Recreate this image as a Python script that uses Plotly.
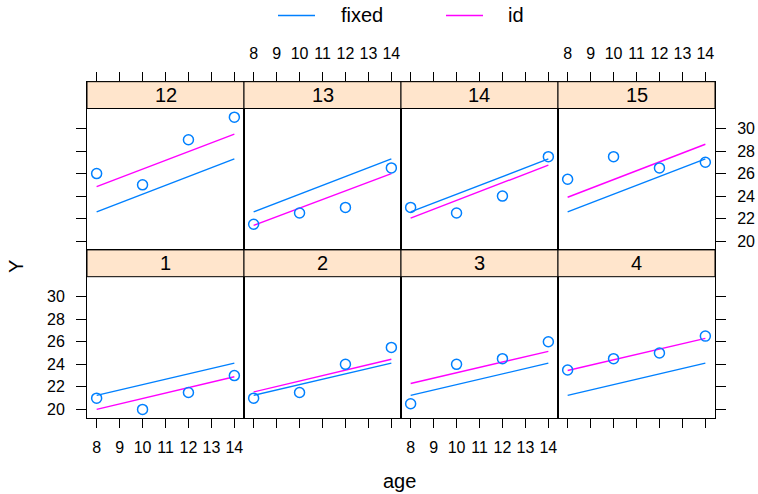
import plotly.graph_objects as go

# ---------------- data ----------------
ages = [8, 10, 12, 14]
panel_labels = ["12", "13", "14", "15", "1", "2", "3", "4"]  # top row then bottom row
distances = [
    [26.0, 25.0, 29.0, 31.0],   # 12
    [21.5, 22.5, 23.0, 26.5],   # 13
    [23.0, 22.5, 24.0, 27.5],   # 14
    [25.5, 27.5, 26.5, 27.0],   # 15
    [21.0, 20.0, 21.5, 23.0],   # 1
    [21.0, 21.5, 24.0, 25.5],   # 2
    [20.5, 24.0, 24.5, 26.0],   # 3
    [23.5, 24.5, 25.0, 26.5],   # 4
]
# fitted lines: value at age 8 and at age 14
fixed_start = [22.6, 22.6, 22.6, 22.6, 21.25, 21.25, 21.25, 21.25]
fixed_end = [27.3, 27.3, 27.3, 27.3, 24.1, 24.1, 24.1, 24.1]
id_start = [24.85, 21.4, 22.05, 23.9, 20.0, 21.55, 22.3, 23.45]
id_end = [29.5, 26.0, 26.75, 28.6, 22.9, 24.45, 25.15, 26.3]
line_ages = [8, 14]
xticks = [8, 9, 10, 11, 12, 13, 14]
yticks = [20, 22, 24, 26, 28, 30]

# ---------------- layout geometry (pixels) ----------------
W, H = 758, 494
BLUE = "#0080ff"
PINK = "#ff00ff"
STRIP = "#ffe5cc"
FONT = "Liberation Sans, Arial, Helvetica, sans-serif"

left0, pw = 87.0, 157.0
top0, sh, ph = 81.7, 26.8, 141.4

xmin, xmax = min(ages), max(ages)
xpad = 0.07 * (xmax - xmin)
xr = [xmin - xpad, xmax + xpad]
allv = [v for row in distances for v in row]
ymin, ymax = min(allv), max(allv)
ypad = 0.07 * (ymax - ymin)
yr_lo, yr_hi = ymin - ypad, ymax + ypad
# extend range upward to include the strip area
yr_top = yr_hi + (yr_hi - yr_lo) * sh / ph
yr = [yr_lo, yr_top]

def px_x(p):
    return p / W

def px_y(p):
    return 1 - p / H

fig = go.Figure()
shapes = []
annotations = []

for i in range(8):
    row, col = divmod(i, 4)
    n = i + 1
    xa = "x" if n == 1 else f"x{n}"
    ya = "y" if n == 1 else f"y{n}"
    xkey = "xaxis" if n == 1 else f"xaxis{n}"
    ykey = "yaxis" if n == 1 else f"yaxis{n}"

    x0p = left0 + col * pw
    x1p = x0p + pw
    t = top0 + row * (sh + ph)
    b = t + sh + ph

    fig.add_trace(go.Scatter(x=line_ages, y=[fixed_start[i], fixed_end[i]], mode="lines",
                             line=dict(color=BLUE, width=1.4), xaxis=xa, yaxis=ya,
                             name="fixed", showlegend=False, hoverinfo="skip"))
    fig.add_trace(go.Scatter(x=line_ages, y=[id_start[i], id_end[i]], mode="lines",
                             line=dict(color=PINK, width=1.4), xaxis=xa, yaxis=ya,
                             name="id", showlegend=False, hoverinfo="skip"))
    fig.add_trace(go.Scatter(x=ages, y=distances[i], mode="markers",
                             marker=dict(symbol="circle-open", size=10, color=BLUE,
                                         line=dict(width=1.5, color=BLUE)),
                             xaxis=xa, yaxis=ya, showlegend=False))

    # x axis
    if row == 0:
        xside = "top"
        xlabels = (col % 2 == 1)
    else:
        xside = "bottom"
        xlabels = (col % 2 == 0)
    fig.layout[xkey] = dict(
        domain=[px_x(x0p), px_x(x1p)], range=xr, anchor=ya, side=xside,
        showline=True, mirror=True, linecolor="black", linewidth=1,
        showgrid=False, zeroline=False,
        tickmode="array", tickvals=xticks, ticktext=[str(v) for v in xticks],
        ticks="outside", ticklen=9, tickwidth=1, tickcolor="black",
        showticklabels=xlabels, ticklabelstandoff=6,
        tickfont=dict(family=FONT, size=16, color="black"),
    )
    # y axis
    yside = "left"
    yt = ""
    ylabels = False
    if col == 0:
        yside, yt, ylabels = "left", "outside", (row == 1)
    elif col == 3:
        yside, yt, ylabels = "right", "outside", (row == 0)
    fig.layout[ykey] = dict(
        domain=[px_y(b), px_y(t)], range=yr, anchor=xa, side=yside,
        showline=True, mirror=True, linecolor="black", linewidth=1,
        showgrid=False, zeroline=False,
        tickmode="array", tickvals=yticks if yt else [],
        ticks=yt, ticklen=10, tickwidth=1, tickcolor="black",
        showticklabels=ylabels, ticklabelstandoff=8,
        tickfont=dict(family=FONT, size=16, color="black"),
    )

    # strip
    shapes.append(dict(type="rect", xref="paper", yref="paper",
                       x0=px_x(x0p), x1=px_x(x1p), y0=px_y(t + sh), y1=px_y(t),
                       fillcolor=STRIP, line=dict(color="black", width=1), layer="above"))
    annotations.append(dict(text=panel_labels[i], xref="paper", yref="paper",
                            x=px_x((x0p + x1p) / 2), y=px_y(t + sh / 2),
                            xanchor="center", yanchor="middle", showarrow=False,
                            font=dict(family=FONT, size=20, color="black")))

# legend (manual key)
legend_items = [("fixed", BLUE, 278, 340), ("id", PINK, 446, 507)]
for name, col, lx, tx in legend_items:
    shapes.append(dict(type="line", xref="paper", yref="paper",
                       x0=px_x(lx), x1=px_x(lx + 37), y0=px_y(15.5), y1=px_y(15.5),
                       line=dict(color=col, width=1.4)))
    annotations.append(dict(text=name, xref="paper", yref="paper",
                            x=px_x(tx - 1), y=px_y(15), xanchor="left", yanchor="middle",
                            showarrow=False, font=dict(family=FONT, size=20, color="black")))

# axis titles
annotations.append(dict(text="age", xref="paper", yref="paper", x=px_x(399), y=px_y(481),
                        xanchor="center", yanchor="middle", showarrow=False,
                        font=dict(family=FONT, size=20, color="black")))
annotations.append(dict(text="Y", xref="paper", yref="paper", x=px_x(16), y=px_y(267),
                        xanchor="center", yanchor="middle", textangle=-90, showarrow=False,
                        font=dict(family=FONT, size=20, color="black")))

fig.update_layout(width=W, height=H, margin=dict(l=0, r=0, t=0, b=0),
                  paper_bgcolor="white", plot_bgcolor="white",
                  shapes=shapes, annotations=annotations, showlegend=False)

fig.write_html("out.html", config={"displayModeBar": False},
               post_script="document.body.style.margin='0';document.body.style.overflow='hidden';")
